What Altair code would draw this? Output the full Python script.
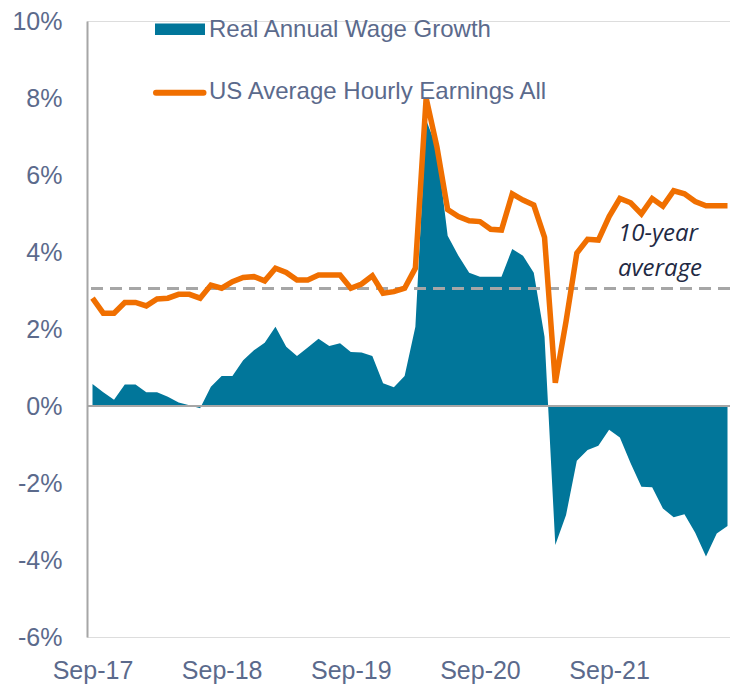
import altair as alt
import pandas as pd

# ---- data ----
months = pd.date_range("2017-09-01", periods=60, freq="MS").strftime("%b-%y").tolist()

real_wage_growth = [
    0.57, 0.36, 0.16, 0.56, 0.56, 0.36, 0.36, 0.24, 0.09, 0.02,
    -0.06, 0.50, 0.78, 0.78, 1.19, 1.45, 1.64, 2.06, 1.54, 1.30,
    1.52, 1.75, 1.56, 1.63, 1.40, 1.39, 1.30, 0.59, 0.49, 0.78,
    2.06, 7.43, 6.70, 4.42, 3.90, 3.46, 3.36, 3.36, 3.36, 4.08,
    3.90, 3.46, 1.80, -3.61, -2.83, -1.42, -1.14, -1.03, -0.62, -0.82,
    -1.49, -2.10, -2.11, -2.66, -2.89, -2.81, -3.29, -3.91, -3.31, -3.12,
]

hourly_earnings = [
    2.80, 2.41, 2.41, 2.69, 2.69, 2.60, 2.78, 2.80, 2.90, 2.90,
    2.80, 3.14, 3.06, 3.23, 3.34, 3.36, 3.25, 3.58, 3.47, 3.27,
    3.27, 3.40, 3.40, 3.40, 3.06, 3.17, 3.38, 2.93, 2.97, 3.06,
    3.58, 8.00, 6.73, 5.10, 4.92, 4.81, 4.79, 4.59, 4.57, 5.51,
    5.35, 5.22, 4.38, 0.60, 2.20, 3.97, 4.33, 4.31, 4.92, 5.39,
    5.28, 4.99, 5.39, 5.19, 5.59, 5.51, 5.31, 5.20, 5.20, 5.20,
]

ten_year_average = [3.05]
zero_line = [0]
x_tick_labels = ["Sep-17", "Sep-18", "Sep-19", "Sep-20", "Sep-21"]
y_ticks = [-6, -4, -2, 0, 2, 4, 6, 8, 10]
legend_labels = ["Real Annual Wage Growth", "US Average Hourly Earnings All"]
annotation_lines = ["10-year", "average"]

# ---- styles ----
TEAL = "#01769A"
ORANGE = "#F06F00"
GRAY = "#A6A6A6"
TEXT = "#5B6A8C"
FONT = "Liberation Sans"

df = pd.DataFrame({"month": months, "real": real_wage_growth, "ahe": hourly_earnings})

x_enc = alt.X(
    "month:O",
    sort=months,
    scale=alt.Scale(type="point", range=[5.5, 640.5], padding=0),
    axis=alt.Axis(
        values=x_tick_labels, title=None, labelAngle=0, domain=False, ticks=False,
        labelFont=FONT, labelFontSize=25, labelColor=TEXT, labelPadding=21,
    ),
)
y_scale = alt.Scale(domain=[-6, 10], nice=False, zero=False)
y_axis = alt.Axis(
    values=y_ticks, labelExpr="datum.value + '%'", title=None, grid=False, ticks=False,
    domainColor=GRAY, domainWidth=2, labelFont=FONT, labelFontSize=25,
    labelColor=TEXT, labelPadding=25,
)

base = alt.Chart(df)

area = base.mark_area(color=TEAL, opacity=1).encode(
    x=x_enc, y=alt.Y("real:Q", scale=y_scale, axis=y_axis)
)

zero = alt.Chart(pd.DataFrame({"v": zero_line})).mark_rule(color=GRAY, strokeWidth=2).encode(
    y=alt.Y("v:Q", scale=y_scale)
)

avg = alt.Chart(pd.DataFrame({"v": ten_year_average})).mark_rule(
    color=GRAY, strokeWidth=3, strokeDash=[12, 7]
).encode(y=alt.Y("v:Q", scale=y_scale))

line = base.mark_line(color=ORANGE, strokeWidth=5.5, strokeJoin="miter").encode(
    x=x_enc, y=alt.Y("ahe:Q", scale=y_scale)
)

annot_df = pd.DataFrame({"t": [0]})
annotation = alt.Chart(annot_df).mark_text(
    text=annotation_lines, align="left", baseline="alphabetic", lineHeight=35,
    font="Open Sans", fontStyle="italic", fontSize=24, color="#1F2A44",
).encode(x=alt.value(531), y=alt.value(220))

leg_rect = alt.Chart(annot_df).mark_rect(color=TEAL).encode(
    x=alt.value(68), x2=alt.value(118), y=alt.value(2.5), y2=alt.value(14)
)
leg_line = alt.Chart(annot_df).mark_rule(color=ORANGE, strokeWidth=6, strokeCap="round").encode(
    x=alt.value(69), x2=alt.value(116.5), y=alt.value(71.7)
)
leg_text1 = alt.Chart(annot_df).mark_text(
    text=legend_labels[0], align="left", baseline="alphabetic",
    font=FONT, fontSize=24, color=TEXT,
).encode(x=alt.value(122), y=alt.value(16.3))
leg_text2 = alt.Chart(annot_df).mark_text(
    text=legend_labels[1], align="left", baseline="alphabetic",
    font=FONT, fontSize=24, color=TEXT,
).encode(x=alt.value(122), y=alt.value(78.3))

chart = alt.layer(
    area, zero, avg, line, annotation, leg_rect, leg_line, leg_text1, leg_text2
).properties(
    width=643, height=616,
    autosize=alt.AutoSizeParams(type="none"),
    padding={"left": 79, "top": 13, "right": 0, "bottom": 47},
).configure_view(stroke=None).configure(background="white")

chart.save("out.html", embed_options={"renderer": "svg", "actions": False})
